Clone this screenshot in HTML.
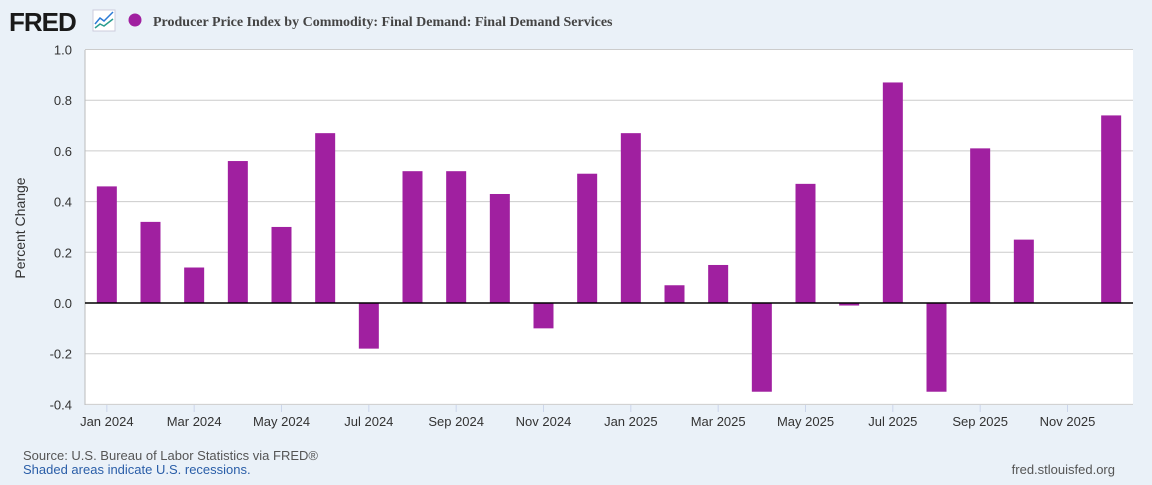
<!DOCTYPE html>
<html><head><meta charset="utf-8"><style>
body{margin:0;width:1152px;height:480px;background:#eaf1f8;font-family:"Liberation Sans",sans-serif;overflow:hidden}
</style></head><body>
<svg width="1152" height="480">
<rect x="0" y="0" width="1152" height="480" fill="#eaf1f8"/>
<text x="9" y="31" font-size="26" font-weight="bold" fill="#1a1a1a" font-family="Liberation Sans" letter-spacing="-1">FRED</text>
<g><rect x="93" y="10" width="22" height="21" fill="#fff" stroke="#ccd"/><polyline points="95,24 100,18 104,21 113,12" fill="none" stroke="#2c7bd6" stroke-width="1.5"/><polyline points="95,28 100,24 104,26 113,19" fill="none" stroke="#2a9d8f" stroke-width="1.5"/></g>
<circle cx="135" cy="20" r="6.5" fill="#a020a0"/>
<text x="153" y="26" font-size="14" font-weight="bold" fill="#444" font-family="Liberation Serif">Producer Price Index by Commodity: Final Demand: Final Demand Services</text>
<rect x="85" y="50" width="1048" height="355" fill="#fff"/>
<g id="grid"></g><g id="bars"></g><g id="axes"></g>
<text x="25" y="228" font-size="14" fill="#333" transform="rotate(-90 25 228)" text-anchor="middle">Percent Change</text>
<text x="23" y="460" font-size="13" fill="#555">Source: U.S. Bureau of Labor Statistics via FRED®</text>
<text x="23" y="474" font-size="13" fill="#2a5ea8">Shaded areas indicate U.S. recessions.</text>
<text x="1115" y="474" font-size="13" fill="#555" text-anchor="end">fred.stlouisfed.org</text>
</svg>
<script>
const months=["Jan 2024","Feb 2024","Mar 2024","Apr 2024","May 2024","Jun 2024","Jul 2024","Aug 2024","Sep 2024","Oct 2024","Nov 2024","Dec 2024","Jan 2025","Feb 2025","Mar 2025","Apr 2025","May 2025","Jun 2025","Jul 2025","Aug 2025","Sep 2025","Oct 2025","Nov 2025","Dec 2025"];
const values=[0.46,0.32,0.14,0.56,0.30,0.67,-0.18,0.52,0.52,0.43,-0.10,0.51,0.67,0.07,0.15,-0.35,0.47,-0.01,0.87,-0.35,0.61,0.25,null,0.74];
const yTicks=[1.0,0.8,0.6,0.4,0.2,0.0,-0.2,-0.4];
const ns="http://www.w3.org/2000/svg";
const x0=85,x1=1133,n=months.length,slot=(x1-x0)/n;
const y=v=>303-(v)*253.5;
const xc=i=>x0+(i+0.5)*slot;
function mk(t,a,p){const e=document.createElementNS(ns,t);for(const k in a)e.setAttribute(k,a[k]);p.appendChild(e);return e;}
const g=document.getElementById('grid'),b=document.getElementById('bars'),ax=document.getElementById('axes');
yTicks.forEach(v=>{
 if(v!==0){
 const l=mk('line',{x1:x0,x2:x1,y1:y(v),y2:y(v),stroke:'#cccccc','stroke-width':1},g);
 
 
 }
 const t=mk('text',{x:72,y:y(v)+5,'font-size':13,fill:'#333','text-anchor':'end'},ax);
 t.textContent=v.toFixed(1);
 
 
});
mk('line',{x1:x0,x2:x0,y1:50,y2:405,stroke:'#bbb'},ax);
for(let i=0;i<n;i+=2){
 const tk=mk('line',{x1:xc(i),x2:xc(i),y1:405,y2:412,stroke:'#ccd6eb'},ax);
 
 
 const t=mk('text',{x:xc(i),y:426,'font-size':13,fill:'#333','text-anchor':'middle'},ax);
 t.textContent=months[i];
 
 
}
values.forEach((v,i)=>{
 if(v===null)return;
 const top=Math.min(y(v),y(0)),h=Math.max(Math.abs(y(v)-y(0)),1);
 const r=mk('rect',{x:xc(i)-10,y:top,width:20,height:h,fill:'#a020a0'},b);
 
 
});
mk('line',{x1:x0,x2:x1,y1:y(0),y2:y(0),stroke:'#000','stroke-width':1.5},ax);
</script>
</body></html>
